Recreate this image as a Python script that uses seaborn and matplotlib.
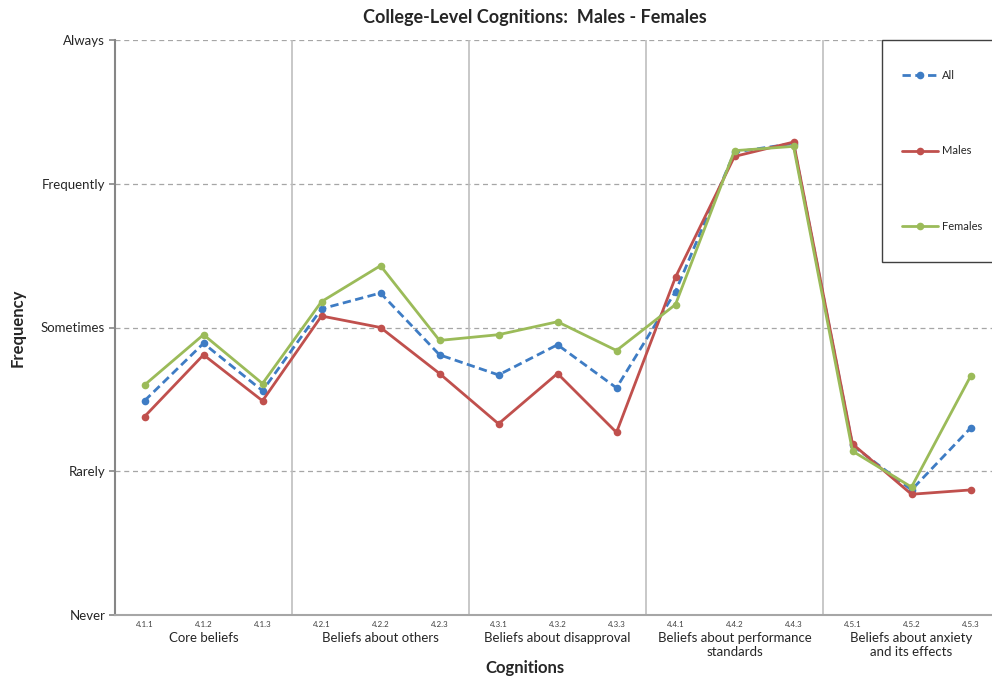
import matplotlib
matplotlib.use("Agg")
import matplotlib.pyplot as plt
import seaborn as sns
import pandas as pd
from matplotlib.patches import Rectangle
from matplotlib.lines import Line2D

codes = ["4.1.1", "4.1.2", "4.1.3", "4.2.1", "4.2.2", "4.2.3", "4.3.1", "4.3.2", "4.3.3",
         "4.4.1", "4.4.2", "4.4.3", "4.5.1", "4.5.2", "4.5.3"]
groups = ["Core beliefs", "Beliefs about others", "Beliefs about disapproval",
          "Beliefs about performance\nstandards", "Beliefs about anxiety\nand its effects"]
freq_labels = ["Never", "Rarely", "Sometimes", "Frequently", "Always"]

all_vals = [2.49, 2.89, 2.56, 3.13, 3.24, 2.81, 2.67, 2.88, 2.58, 3.25, 4.22, 4.28, 2.18, 1.87, 2.30]
males = [2.38, 2.81, 2.49, 3.08, 3.00, 2.68, 2.33, 2.68, 2.27, 3.35, 4.19, 4.29, 2.19, 1.84, 1.87]
females = [2.60, 2.95, 2.61, 3.18, 3.43, 2.91, 2.95, 3.04, 2.84, 3.16, 4.23, 4.26, 2.14, 1.89, 2.66]

series_names = ["All", "Males", "Females"]
colors = {"All": "#3e7cc4", "Males": "#c0504d", "Females": "#9bbb59"}

rows = []
for name, vals in zip(series_names, [all_vals, males, females]):
    for i, v in enumerate(vals):
        rows.append({"pos": i, "value": v, "series": name})
df = pd.DataFrame(rows)

sns.set_style("white")
plt.rcParams["font.family"] = ["Lato", "DejaVu Sans"]

fig = plt.figure(figsize=(9.92, 6.8), dpi=100)
ax = fig.add_axes([115/992, 1 - 615/680, (1000 - 115)/992, (615 - 40)/680])

# gridlines and group separators
for yv in [2, 3, 4, 5]:
    ax.axhline(yv, color="#a6a6a6", lw=0.9, ls=(0, (4, 3)), zorder=0)
for xv in [2.5, 5.5, 8.5, 11.5]:
    ax.axvline(xv, color="#bfbfbf", lw=1.2, zorder=0)

sns.lineplot(data=df, x="pos", y="value", hue="series", style="series",
             hue_order=series_names, style_order=series_names,
             palette=colors, dashes={"All": (3, 1.6), "Males": "", "Females": ""},
             markers={"All": "o", "Males": "o", "Females": "o"},
             markersize=5.5, markeredgewidth=0, linewidth=2.0, legend=False, ax=ax)

ax.set_xlim(-0.5, 14.5)
ax.set_ylim(1, 5)
ax.set_yticks([1, 2, 3, 4, 5])
ax.set_yticklabels(freq_labels, fontsize=9.5)
ax.set_xticks(range(len(codes)))
ax.set_xticklabels(codes, fontsize=5.8, color="#404040")
ax.set_xticks([i + 0.5 for i in range(-1, 15)], minor=True)
ax.tick_params(axis="x", which="major", length=0, pad=4)
ax.tick_params(axis="x", which="minor", length=4, color="#a0a0a0", width=1.2)
ax.tick_params(axis="y", which="major", left=True, length=4, color="#868686", width=1.2, pad=3)

for s in ["top", "right"]:
    ax.spines[s].set_visible(False)
ax.spines["left"].set_color("#868686")
ax.spines["left"].set_linewidth(1.5)
ax.spines["bottom"].set_color("#a6a6a6")
ax.spines["bottom"].set_linewidth(1.5)

ax.set_xlabel("")
ax.set_ylabel("")

# group labels
for gi, g in enumerate(groups):
    fig.text((115 + (gi * 3 + 1.5) * 59) / 992, 1 - 632/680, g, ha="center", va="top",
             fontsize=9.5, linespacing=1.15)

fig.text(525/992, 1 - 668/680, "Cognitions", ha="center", va="center",
         fontsize=12, fontweight="bold")
fig.text(18/992, 1 - 328/680, "Frequency", ha="center", va="center", rotation=90,
         fontsize=12, fontweight="bold")
fig.text(535/992, 1 - 18/680, "College-Level Cognitions:  Males - Females", ha="center",
         va="center", fontsize=13, fontweight="bold")

# legend box
fig.patches.append(Rectangle((882/992, 1 - 262/680), 0.2, (262 - 40)/680,
                             transform=fig.transFigure, fill=True, facecolor="white",
                             edgecolor="#404040", lw=1.0, zorder=3))
handles = [Line2D([0], [0], color=colors[n], lw=2.0, marker="o", markersize=5.5,
                  markeredgewidth=0, dashes=(3, 1.6) if n == "All" else (None, None))
           for n in series_names]
handles[1].set_linestyle("-")
handles[2].set_linestyle("-")
leg = fig.legend(handles, series_names, loc="upper left",
                 bbox_to_anchor=(902/992, 1 - 70/680), frameon=False, fontsize=8,
                 borderpad=0, borderaxespad=0, handlelength=3.2, handletextpad=0.4,
                 labelspacing=5.8)
leg.set_zorder(4)

fig.savefig("out.png", dpi=100)
